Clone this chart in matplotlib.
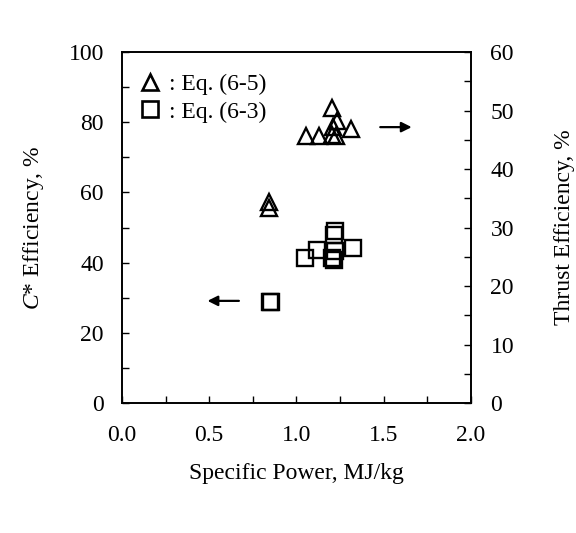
import matplotlib
matplotlib.use("Agg")
import matplotlib.pyplot as plt
from matplotlib.ticker import MultipleLocator
from matplotlib.lines import Line2D

plt.rcParams['font.family'] = ['Liberation Serif', 'DejaVu Serif']
plt.rcParams['mathtext.fontset'] = 'custom'
plt.rcParams['mathtext.rm'] = 'Liberation Serif'
plt.rcParams['mathtext.it'] = 'Liberation Serif:italic'

# Eq. (6-5): thrust efficiency (right axis)
tri_power = [1.205, 1.234, 1.21, 1.31, 1.052, 1.128, 1.205, 1.224, 0.841, 0.845]
tri_thrust = [50.4, 48.2, 47.2, 46.8, 45.6, 45.6, 45.9, 45.6, 34.3, 33.4]

# Eq. (6-3): C* efficiency (left axis)
sq_power = [0.847, 0.852, 1.046, 1.119, 1.218, 1.213, 1.326, 1.218, 1.205, 1.213]
sq_cstar = [28.7, 28.9, 41.3, 43.7, 48.9, 47.9, 44.2, 43.2, 41.3, 40.8]

legend_labels = [': Eq. (6-5)', ': Eq. (6-3)']
x_ticks = [0.0, 0.5, 1.0, 1.5, 2.0]
left_ticks = [0, 20, 40, 60, 80, 100]
right_ticks = [0, 10, 20, 30, 40, 50, 60]

FS = 17
fig = plt.figure(figsize=(5.76, 5.33), dpi=100)
ax = fig.add_axes([0.2118, 0.2439, 0.6059, 0.6585])
ax2 = ax.twinx()

ax.set_xlim(0, 2.0)
ax.set_ylim(0, 100)
ax2.set_ylim(0, 60)

mk = dict(linestyle='none', markerfacecolor='none', markeredgecolor='black',
          markeredgewidth=1.7, clip_on=False)
ax.plot(sq_power, sq_cstar, marker='s', markersize=11.5, **mk)
ax2.plot(tri_power, tri_thrust, marker='^', markersize=11.5, **mk)

ax.set_xticks(x_ticks)
ax.set_xticklabels([f'{v:.1f}' for v in x_ticks])
ax.xaxis.set_minor_locator(MultipleLocator(0.25))
ax.set_yticks(left_ticks)
ax.yaxis.set_minor_locator(MultipleLocator(10))
ax2.set_yticks(right_ticks)
ax2.yaxis.set_minor_locator(MultipleLocator(5))

for a in (ax, ax2):
    a.tick_params(which='both', direction='in', length=5, width=1.0,
                  labelsize=FS, colors='black')
    for s in a.spines.values():
        s.set_linewidth(1.2)
ax.tick_params(axis='x', which='both', top=False, pad=16)
ax.tick_params(axis='y', which='both', right=False, pad=13)
ax2.tick_params(axis='y', which='both', left=False, pad=14)

ax.set_xlabel('Specific Power, MJ/kg', fontsize=FS, labelpad=12)
ax.set_ylabel('$C$* Efficiency, %', fontsize=FS, labelpad=16)
ax2.set_ylabel('Thrust Efficiency, %', fontsize=FS, labelpad=29)

# arrows pointing to each series' axis
arrow = dict(arrowstyle='-|>', color='black', lw=1.6, mutation_scale=15,
             shrinkA=0, shrinkB=0)
ax.annotate('', xy=(1.66, 78.6), xytext=(1.48, 78.6), arrowprops=arrow)
ax.annotate('', xy=(0.49, 29.1), xytext=(0.67, 29.1), arrowprops=arrow)

handles = [
    Line2D([], [], marker='^', markersize=12, linestyle='none',
           markerfacecolor='none', markeredgecolor='black', markeredgewidth=1.9),
    Line2D([], [], marker='s', markersize=12, linestyle='none',
           markerfacecolor='none', markeredgecolor='black', markeredgewidth=1.9),
]
ax.legend(handles, legend_labels, loc='upper left', frameon=False,
          fontsize=FS, handlelength=1.0, handletextpad=0.3, labelspacing=0.25,
          borderaxespad=0.0, bbox_to_anchor=(0.02, 0.965))

fig.savefig('out.png', dpi=100)
